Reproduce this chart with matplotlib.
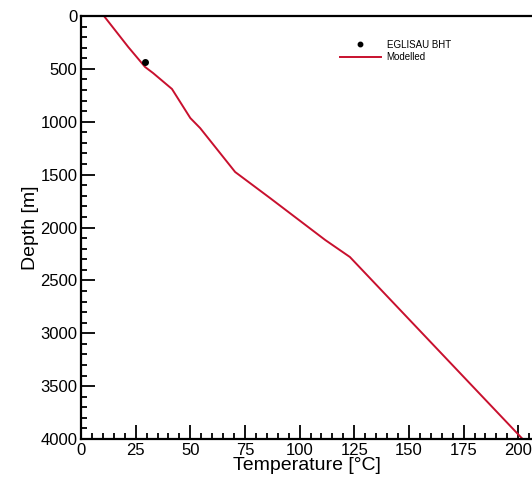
import numpy as np
import matplotlib.pyplot as plt
from matplotlib.ticker import MultipleLocator

plt.rcParams['font.family'] = ['Liberation Sans', 'DejaVu Sans']

# Modelled temperature profile
model_temp = [10.5, 21.6, 29.3, 33.0, 41.6, 50.0, 54.5, 70.5, 86.5, 111.7, 123.0, 202.0]
model_depth = [0, 293, 482, 540, 690, 965, 1060, 1475, 1722, 2118, 2279, 4000]

# Bottom-hole temperature
bht_temp = [29.3]
bht_depth = [432]

x_ticks = [0, 25, 50, 75, 100, 125, 150, 175, 200]
y_ticks = [0, 500, 1000, 1500, 2000, 2500, 3000, 3500, 4000]

fig = plt.figure(figsize=(5.32, 4.78), dpi=100)
ax = fig.add_axes([0.1523, 0.0816, 0.8477, 0.8849])

ax.plot(model_temp, model_depth, color="#c8102e", lw=1.4, label="Modelled", zorder=2)
ax.plot(bht_temp, bht_depth, "o", color="black", ms=4, label="EGLISAU BHT", zorder=3)

ax.set_xlim(0, 206.3)
ax.set_ylim(4000, 0)
ax.set_xticks(x_ticks)
ax.set_yticks(y_ticks)
ax.xaxis.set_minor_locator(MultipleLocator(5))
ax.yaxis.set_minor_locator(MultipleLocator(100))
ax.tick_params(which="both", direction="in", top=False, right=False,
               labelsize=12, width=1.3)
ax.tick_params(axis="y", pad=2.5)
ax.tick_params(axis="x", pad=3)
ax.tick_params(which="major", length=10)
ax.tick_params(which="minor", length=4)

for s in ["left", "bottom", "top"]:
    ax.spines[s].set_linewidth(1.6)
ax.spines["right"].set_visible(False)

ax.set_xlabel("Temperature [°C]", fontsize=14, labelpad=-1)
ax.set_ylabel("Depth [m]", fontsize=14, labelpad=1)

h, l = ax.get_legend_handles_labels()
ax.legend([h[1], h[0]], [l[1], l[0]], loc="upper left",
          bbox_to_anchor=(0.555, 0.965), frameon=False, fontsize=7,
          handlelength=4.2, labelspacing=0.25, handletextpad=0.6,
          markerscale=0.8)

fig.savefig("out.png", dpi=100)
